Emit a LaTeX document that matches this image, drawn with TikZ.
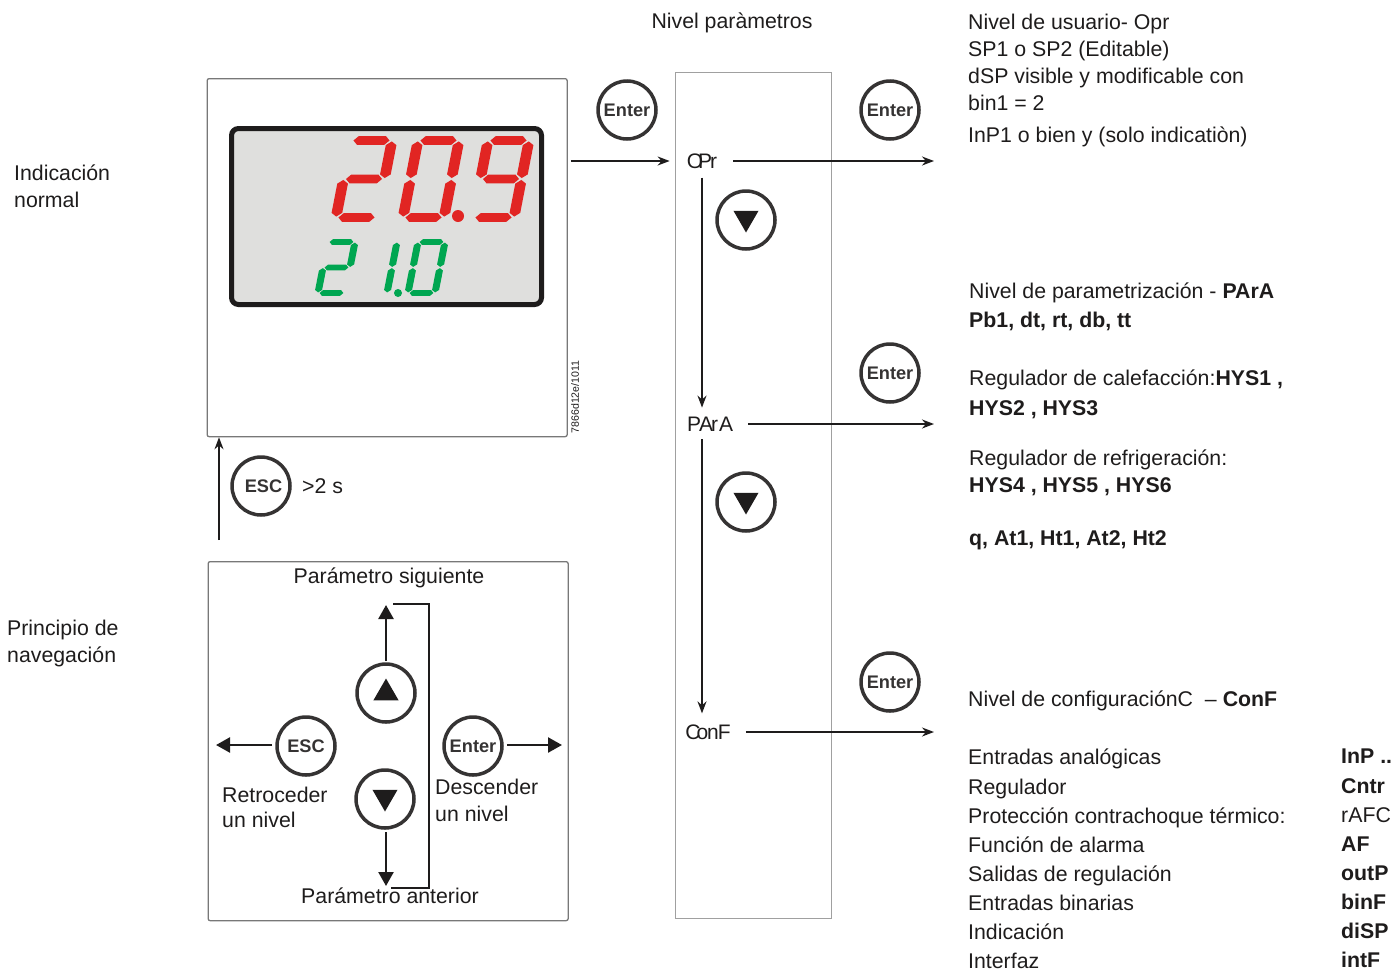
\documentclass[tikz,border=0pt]{standalone}
\usepackage{fontspec}
\setmainfont{Liberation Sans}
\usepackage{xcolor}
\usetikzlibrary{arrows.meta,calc,positioning,shapes.geometric}
\definecolor{ink}{RGB}{30,28,28}
\definecolor{edge}{RGB}{120,120,120}
\definecolor{lcdbg}{RGB}{223,223,221}
\definecolor{lcdred}{RGB}{225,37,35}
\definecolor{lcdgreen}{RGB}{0,166,81}
\newcommand{\segh}[1]{\fill (0.06,#1) -- (0.17,{#1+0.058}) -- (0.83,{#1+0.058}) -- (0.94,#1) -- (0.83,{#1-0.058}) -- (0.17,{#1-0.058}) -- cycle;}
\newcommand{\segv}[3]{\fill (#1,{#2+0.012}) -- ({#1+0.13},{#2+0.06}) -- ({#1+0.13},{#3-0.06}) -- (#1,{#3-0.012}) -- ({#1-0.13},{#3-0.06}) -- ({#1-0.13},{#2+0.06}) -- cycle;}
\newcommand{\digtwo}{\segh{1}\segh{0.5}\segh{0}\segv{1}{0.5}{1}\segv{0}{0}{0.5}}
\newcommand{\digzero}{\segh{1}\segh{0}\segv{1}{0.5}{1}\segv{1}{0}{0.5}\segv{0}{0.5}{1}\segv{0}{0}{0.5}}
\newcommand{\dignine}{\segh{1}\segh{0.5}\segh{0}\segv{1}{0.5}{1}\segv{1}{0}{0.5}\segv{0}{0.5}{1}}
\newcommand{\digone}{\segv{1}{0.5}{1}\segv{1}{0}{0.5}}
\begin{document}
\begin{tikzpicture}[x=1pt,y=-1pt,>={Stealth[length=12pt,width=9pt]},
  txt/.style={anchor=north west,inner sep=0pt,align=left,text=ink,font=\fontsize{21.3}{27}\selectfont},
  lbl/.style={inner sep=0pt,text=ink,font=\fontsize{21.3}{27}\selectfont},
  panel/.style={draw=edge,line width=1.3pt,rounded corners=2pt},
  button/.style={circle,draw=ink!90,line width=3.5pt,minimum size=58pt,inner sep=0pt,text=ink!90,font=\fontsize{18.2}{20}\selectfont\bfseries},
  tridown/.style={regular polygon,regular polygon sides=3,shape border rotate=180,fill=ink,minimum size=29pt,inner sep=0pt,yshift=2pt},
  triup/.style={tridown,shape border rotate=0,yshift=-2pt},
  flow/.style={->,draw=ink,line width=1.7pt},
  navflow/.style={draw=ink,line width=2.4pt,-{Triangle[length=14pt,width=15pt]}},
  lvl/.style={inner sep=0pt,text=ink,font=\fontsize{21}{24}\selectfont}]
  \useasboundingbox (0,0) rectangle (1394,972);

  % front panel with display
  \node[panel,minimum width=360pt,minimum height=358pt,anchor=north west] (front) at (206.5,78) {};
  \draw[draw=ink,line width=5pt,fill=lcdbg,rounded corners=7pt] (231.5,128.5) rectangle (541.5,304.5);
  \begin{scope}[lcdred]
    \begin{scope}[shift={(336,217.5)},x={(41pt,0pt)},y={(15pt,77pt)}] \digtwo \end{scope}
    \begin{scope}[shift={(403,217.5)},x={(41pt,0pt)},y={(15pt,77pt)}] \digzero \end{scope}
    \begin{scope}[shift={(473,217.5)},x={(41pt,0pt)},y={(15pt,77pt)}] \dignine \end{scope}
    \fill (458,216) circle (6pt);
  \end{scope}
  \begin{scope}[lcdgreen]
    \begin{scope}[shift={(318,293)},x={(27pt,0pt)},y={(10pt,51pt)}] \digtwo \end{scope}
    \begin{scope}[shift={(360,293)},x={(27pt,0pt)},y={(10pt,51pt)}] \digone \end{scope}
    \begin{scope}[shift={(408,293)},x={(27pt,0pt)},y={(10pt,51pt)}] \digzero \end{scope}
    \fill (398,293) circle (4pt);
  \end{scope}
  \node[rotate=90,inner sep=0pt,text=ink,font=\fontsize{10.6}{12}\selectfont] (code) at (575,397) {7866d12e/1011};

  \node[txt] (normal) at (14,165) {Indicación\\normal};
  \node[txt] (princ) at (7,620) {Principio de\\navegación};

  % esc below the panel
  \node[button] (escback) at (261,486) {\kern5pt ESC};
  \node[lbl,anchor=west] (twosec) at (302,486) {>2 s};
  \coordinate (escfrom) at (219,540);
  \draw[flow] (escfrom) -- (escfrom |- front.south);

  % navigation box
  \node[panel,minimum width=360pt,minimum height=359pt,anchor=north west] (nav) at (207.5,561) {};
  \node[lbl] (next) at (389,578) {Parámetro siguiente};
  \node[lbl] (prev) at (390,896) {Parámetro anterior};
  \node[button] (navup) at (386,693) {};
  \node[triup] (navupt) at (navup) {};
  \node[button] (navdown) at (385,799) {};
  \node[tridown] (navdownt) at (navdown) {};
  \node[button] (navesc) at (306,746) {ESC};
  \node[button] (naventer) at (473,746) {Enter};
  \node[txt,font=\fontsize{21.3}{25}\selectfont] (retro) at (222,787) {Retroceder\\un nivel};
  \node[txt] (desc) at (435,779) {Descender\\un nivel};
  \coordinate (upend) at (386,605);
  \coordinate (downend) at (386,886);
  \coordinate (escend) at (216,745);
  \coordinate (enterend) at (562,745);
  \draw[navflow] (navup) ++(0,-32) -- (upend);
  \draw[navflow] (navdown) ++(1,33) -- (downend);
  \draw[navflow] (navesc) ++(-34,-1) -- (escend);
  \draw[navflow] (naventer) ++(34,-1) -- (enterend);
  \draw[draw=ink,line width=1.8pt] (393,604) -- (429,604) -- (429,888) -- (391,888);

  % parameter column
  \node[lbl] (head) at (732,23) {Nivel paràmetros};
  \node[draw=edge!70,line width=1pt,minimum width=156pt,minimum height=846pt,anchor=north west] (column) at (675,72) {};
  \node[lvl] (opr) at (702,161) {O\kern-5pt P\kern-2pt r};
  \node[lvl] (para) at (710,424) {P\kern-2pt A\kern-2pt r\kern1pt A};
  \node[lvl] (conf) at (708,732) {C\kern-4pt o\kern-1pt n\kern-1pt F};
  \node[button] (enterin) at (627,110) {Enter};
  \node[button] (enteropr) at (890,110) {Enter};
  \node[button] (enterpara) at (890,373) {Enter};
  \node[button] (enterconf) at (890,682) {Enter};
  \node[button] (downa) at (746,220) {};
  \node[tridown] (downat) at (downa) {};
  \node[button] (downb) at (746,502) {};
  \node[tridown] (downbt) at (downb) {};
  \coordinate (oprend) at (934,161);
  \coordinate (paraend) at (934,424);
  \coordinate (confend) at (934,732);
  \draw[flow,shorten <=3pt,shorten >=17pt] (front.east |- opr) -- (opr);
  \draw[flow,shorten <=16pt] (opr) -- (oprend);
  \draw[flow,shorten <=15pt] (para) -- (paraend);
  \draw[flow,shorten <=15pt] (conf) -- (confend);
  \draw[flow,shorten <=9pt,shorten >=9pt] (opr.south) -- (opr.south |- para.north);
  \draw[flow,shorten <=8pt,shorten >=11pt] (opr.south |- para.south) -- (opr.south |- conf.north);

  % right hand texts
  \node[txt] (user) at (968,14) {Nivel de usuario- Opr\\SP1 o SP2 (Editable)\\dSP visible y modificable con\\bin1 = 2\\[5pt]InP1 o bien y (solo indicatiòn)};
  \node[txt,font=\fontsize{21.3}{29}\selectfont] (paramlvl) at (969,283) {Nivel de parametrización - \textbf{PArA}\\\textbf{Pb1, dt, rt, db, tt}};
  \node[txt,font=\fontsize{21.3}{30}\selectfont] (heat) at (969,370) {Regulador de calefacción:\textbf{HYS1 ,}\\\textbf{HYS2 , HYS3}};
  \node[txt] (cool) at (969,450) {Regulador de refrigeración:\\\textbf{HYS4 , HYS5 , HYS6}};
  \node[txt] (qrow) at (969,530) {\textbf{q, At1, Ht1, At2, Ht2}};
  \node[txt] (conflvl) at (968,691) {Nivel de configuraciónC\ \ – \textbf{ConF}};
  \node[txt,font=\fontsize{21.3}{29.15}\selectfont] (rows) at (968,749) {Entradas analógicas\\Regulador\\Protección contrachoque térmico:\\Función de alarma\\Salidas de regulación\\Entradas binarias\\Indicación\\Interfaz};
  \node[txt,font=\fontsize{21.3}{29.15}\selectfont] (rowcodes) at (1341,749) {\textbf{InP ..}\\\textbf{Cntr}\\rAFC\\\textbf{AF}\\\textbf{outP}\\\textbf{binF}\\\textbf{diSP}\\\textbf{intF}};
\end{tikzpicture}
\end{document}
